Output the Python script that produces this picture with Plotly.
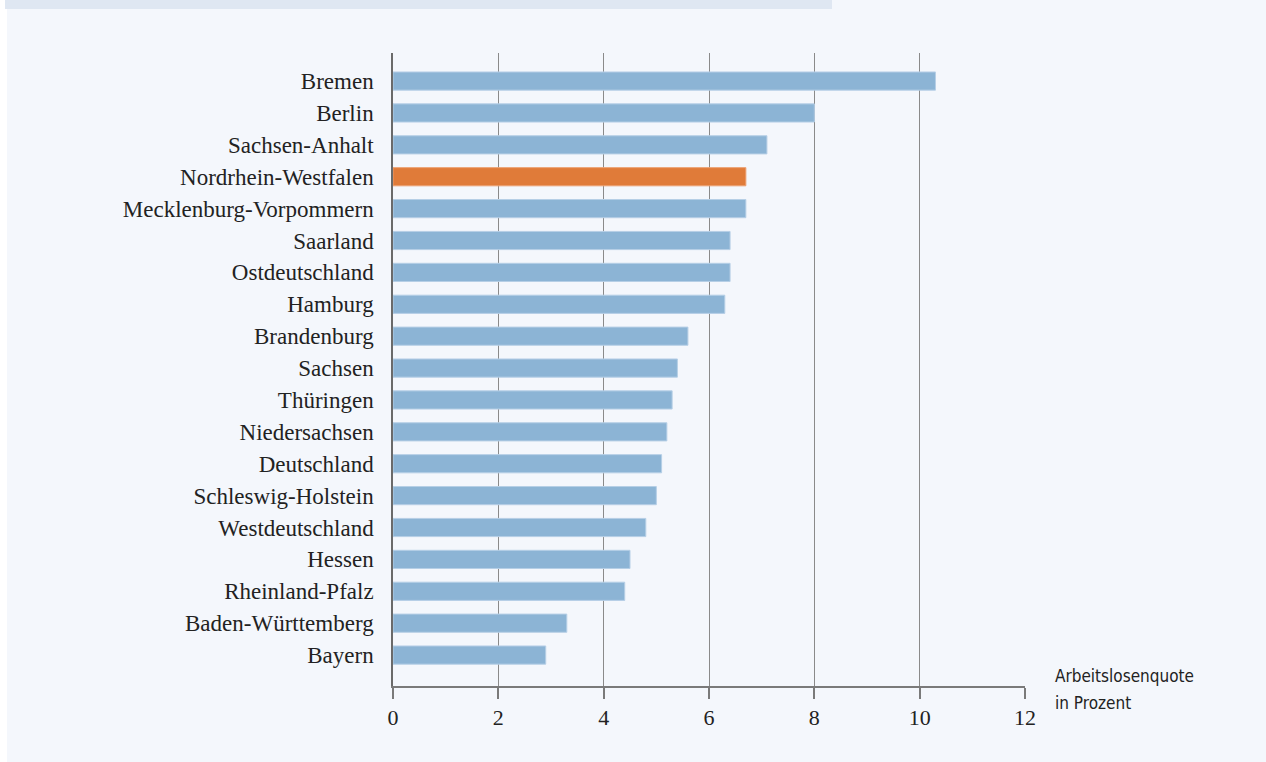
import plotly.graph_objects as go

# Data (top to bottom as in the reference)
regions = ["Bremen", "Berlin", "Sachsen-Anhalt", "Nordrhein-Westfalen",
           "Mecklenburg-Vorpommern", "Saarland", "Ostdeutschland", "Hamburg",
           "Brandenburg", "Sachsen", "Thüringen", "Niedersachsen", "Deutschland",
           "Schleswig-Holstein", "Westdeutschland", "Hessen", "Rheinland-Pfalz",
           "Baden-Württemberg", "Bayern"]
quote = [10.3, 8.0, 7.1, 6.7, 6.7, 6.4, 6.4, 6.3, 5.6, 5.4, 5.3, 5.2, 5.1,
         5.0, 4.8, 4.5, 4.4, 3.3, 2.9]
highlight = "Nordrhein-Westfalen"
x_ticks = [0, 2, 4, 6, 8, 10, 12]
axis_title_lines = ["Arbeitslosenquote", "in Prozent"]

BLUE = "#8cb4d5"
BLUE_EDGE = "#b6cfe6"
ORANGE = "#e07b39"
ORANGE_EDGE = "#eca071"
BG = "#f4f7fc"

y_order = regions[::-1]
x_vals = quote[::-1]
colors = [ORANGE if r == highlight else BLUE for r in y_order]
edges = [ORANGE_EDGE if r == highlight else BLUE_EDGE for r in y_order]

fig = go.Figure(go.Bar(
    x=x_vals, y=y_order, orientation="h",
    marker=dict(color=colors, line=dict(color=edges, width=1)),
    width=0.57,
    hoverinfo="x+y",
))

W, H = 1266, 762
L, R, T, B = 393, 241, 53, 76
pw, ph = W - L - R, H - T - B

def px_x(p):
    return (p - L) / pw

def px_y(p):
    return (H - B - p) / ph

annots = []
for i, line in enumerate(axis_title_lines):
    annots.append(dict(
        text=line, xref="paper", yref="paper",
        x=px_x(1053), y=px_y(676 + 27 * i), xanchor="left", yanchor="middle",
        align="left", showarrow=False,
        font=dict(family="DejaVu Sans Condensed, Liberation Sans", size=17,
                  color="#222222")))

fig.update_layout(
    width=W, height=H,
    margin=dict(l=L, r=R, t=T, b=B, pad=0),
    paper_bgcolor=BG, plot_bgcolor=BG,
    showlegend=False,
    xaxis=dict(
        range=[0, 12], tickvals=x_ticks, ticktext=[str(v) for v in x_ticks],
        showgrid=True, gridcolor="#8a8a8a", gridwidth=1,
        showline=True, linecolor="#7a7a7a", linewidth=1.5,
        ticks="outside", ticklen=11, tickcolor="#7a7a7a", tickwidth=1.5,
        tickfont=dict(family="Liberation Serif", size=22, color="#222222"),
        zeroline=False, fixedrange=True,
    ),
    yaxis=dict(
        categoryorder="array", categoryarray=y_order,
        range=[-0.97, 18.88],
        showgrid=False, showline=True, linecolor="#6a6a6a", linewidth=1.5,
        ticks="", ticklabelstandoff=13,
        tickfont=dict(family="Liberation Serif", size=23, color="#222222"),
        fixedrange=True,
    ),
    shapes=[
        dict(type="rect", xref="paper", yref="paper",
             x0=px_x(0), x1=px_x(7), y0=px_y(H), y1=px_y(0),
             fillcolor="white", line=dict(width=0), layer="below"),
        dict(type="rect", xref="paper", yref="paper",
             x0=px_x(5), x1=px_x(832), y0=px_y(9), y1=px_y(0),
             fillcolor="#dfe7f2", line=dict(width=0), layer="below"),
    ],
    annotations=annots,
)

fig.write_html("out.html")
